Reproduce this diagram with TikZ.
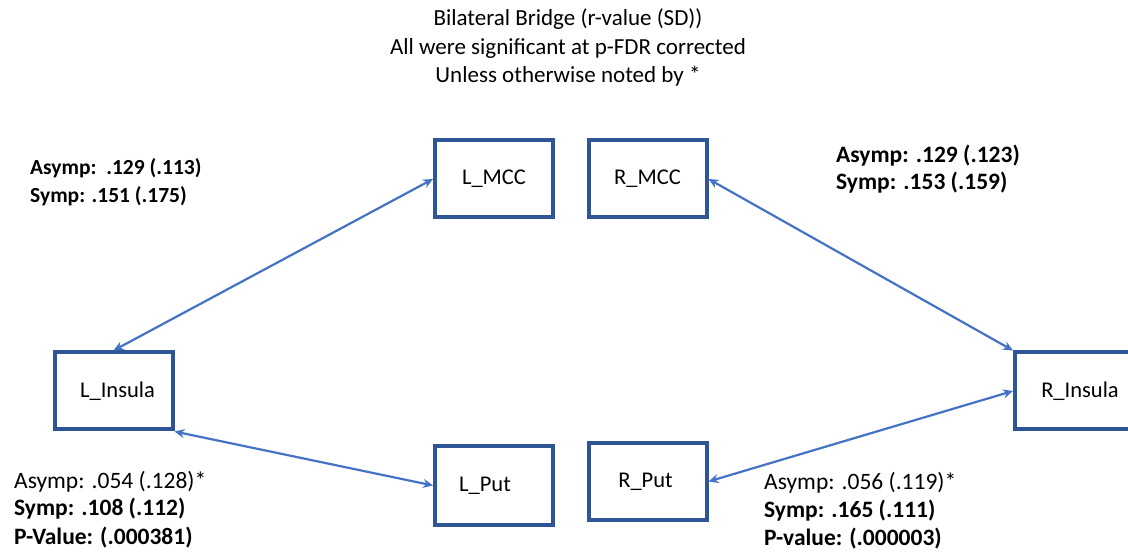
\documentclass[tikz,border=0pt]{standalone}
\usepackage{fontspec}
\setmainfont{Carlito}
\usetikzlibrary{arrows.meta}
\definecolor{boxblue}{HTML}{2F5597}
\definecolor{arrowblue}{HTML}{4472C4}
\begin{document}
\begin{tikzpicture}[x=1pt,y=1pt,
  region/.style={draw=boxblue,line width=4pt,minimum width=118pt,minimum height=77pt,inner sep=0pt,font=\fontsize{22.5}{27}\selectfont},
  link/.style={draw=arrowblue,line width=2.2pt,{Stealth[length=10pt,width=9pt]}-{Stealth[length=10pt,width=9pt]}},
  stat/.style={anchor=base west,align=left,inner sep=0pt,font=\fontsize{21.5}{28}\selectfont},
  bigstat/.style={stat,font=\fontsize{23.5}{28}\selectfont}]
\useasboundingbox (0,0) rectangle (1128,552);
\fill[white] (0,0) rectangle (1128,552);
\node[align=center,inner sep=0pt,anchor=base,font=\fontsize{23}{28.5}\selectfont] (title) at (568,469)
  {Bilateral Bridge (r-value (SD))\\All were significant at p-FDR corrected\\Unless otherwise noted by *};
\node[region] (lmcc) at (494,373) {L\_MCC};
\node[region] (rmcc) at (647.5,373) {R\_MCC};
\node[region] (lins) at (113.5,161) {\hspace*{8pt}L\_Insula};
\node[region,minimum width=140pt] (rins) at (1085,161) {\hspace*{-10pt}R\_Insula};
\node[region,minimum height=79pt] (lput) at (494,66.5) {L\_Put\hspace*{18pt}};
\node[region] (rput) at (647.5,70.5) {R\_Put\hspace*{4pt}};
\draw[link] (lins.north) -- (lmcc.west);
\draw[link] (lins.south east) -- (lput.west);
\draw[link] (rmcc.east) -- (rins.north west);
\draw[link] (rput.east) -- (rins.west);
\node[stat] (tl) at (30,349) {\textbf{Asymp:\ \ .129 (.113)}\\\textbf{Symp: .151 (.175)}};
\node[bigstat,font=\fontsize{23.5}{27}\selectfont] (tr) at (836,362) {\textbf{Asymp: .129 (.123)}\\\textbf{Symp: .153 (.159)}};
\node[bigstat] (bl) at (14,8) {Asymp: .054 (.128)*\\\textbf{Symp: .108 (.112)}\\\textbf{P-Value: (.000381)}};
\node[bigstat] (br) at (764,6) {Asymp: .056 (.119)*\\\textbf{Symp: .165 (.111)}\\\textbf{P-value: (.000003)}};
\end{tikzpicture}
\end{document}
